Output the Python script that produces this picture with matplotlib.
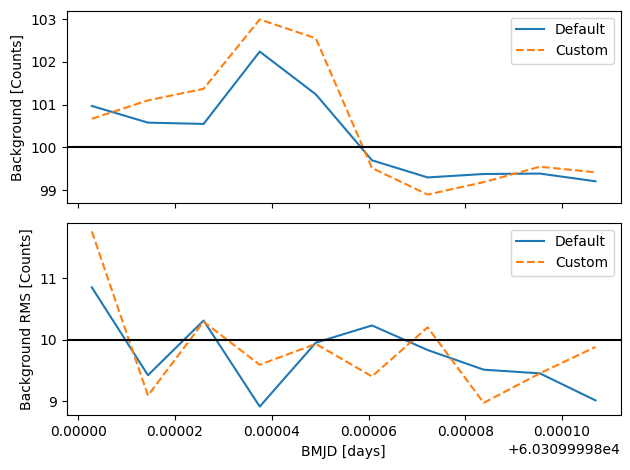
import matplotlib
matplotlib.use("Agg")
import matplotlib.pyplot as plt
import numpy as np

bmjd = np.array([60309.9998028, 60309.9998144, 60309.9998259, 60309.9998375,
                 60309.9998491, 60309.9998607, 60309.9998722, 60309.9998838,
                 60309.9998954, 60309.9999069])

bg_default = [100.97, 100.58, 100.55, 102.24, 101.24, 99.70, 99.30, 99.38, 99.39, 99.21]
bg_custom = [100.67, 101.10, 101.37, 102.99, 102.55, 99.52, 98.90, 99.19, 99.55, 99.42]

rms_default = [10.85, 9.42, 10.31, 8.91, 9.95, 10.23, 9.83, 9.51, 9.45, 9.01]
rms_custom = [11.76, 9.09, 10.29, 9.59, 9.93, 9.40, 10.20, 8.97, 9.45, 9.88]

bg_ref = 100
rms_ref = 10

fig, (ax1, ax2) = plt.subplots(2, 1, sharex=True, figsize=(6.3, 4.7), dpi=100)

ax1.plot(bmjd, bg_default, '-', label='Default')
ax1.plot(bmjd, bg_custom, '--', label='Custom')
ax1.axhline(bg_ref, color='k')
ax1.set_ylabel('Background [Counts]')
ax1.legend(loc='upper right')

ax2.plot(bmjd, rms_default, '-', label='Default')
ax2.plot(bmjd, rms_custom, '--', label='Custom')
ax2.axhline(rms_ref, color='k')
ax2.set_ylabel('Background RMS [Counts]')
ax2.set_xlabel('BMJD [days]')
ax2.legend(loc='upper right')

fig.subplots_adjust(left=0.1058, right=0.9852, top=0.9772, bottom=0.1164, hspace=0.1007)
fig.savefig('out.png', dpi=100)
